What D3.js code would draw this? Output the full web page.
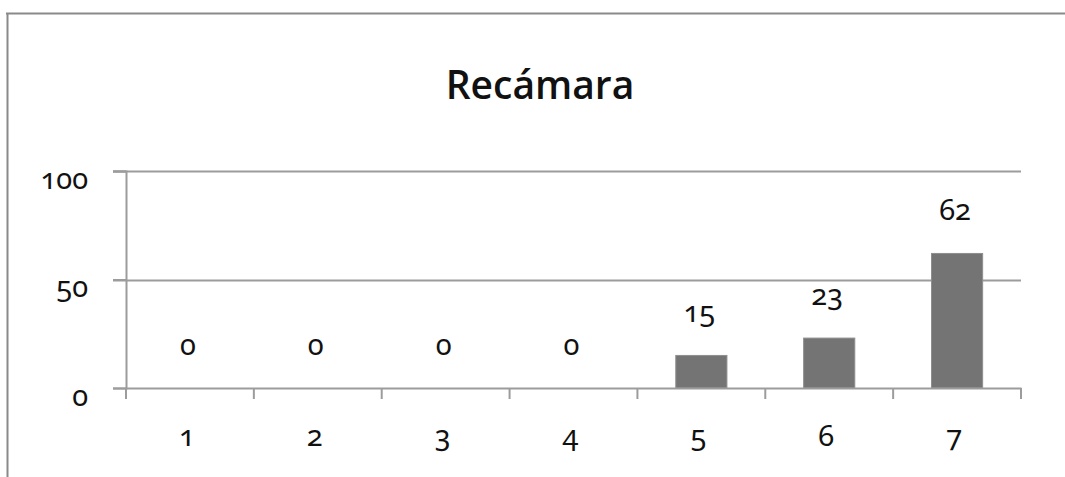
<!DOCTYPE html>
<html>
<head>
<meta charset="utf-8">
<script src="https://cdn.jsdelivr.net/npm/d3@7"></script>
<style>
  html, body { margin: 0; padding: 0; background: #fff; overflow: hidden; }
  svg { display: block; }
  .num { font-family: "Noto Sans", sans-serif; font-feature-settings: "onum" 1; font-variant-numeric: oldstyle-nums; fill: #111; }
</style>
</head>
<body>
<svg id="chart" width="1065" height="477"></svg>
<script>
const title = "Recámara";
const categories = ["1", "2", "3", "4", "5", "6", "7"];
const values = [0, 0, 0, 0, 15, 23, 62];
const yTicks = [0, 50, 100];

const W = 1065, H = 477;
const svg = d3.select("#chart");

// outer border (top and left visible)
svg.append("line").attr("x1", 6).attr("x2", W).attr("y1", 13.5).attr("y2", 13.5)
  .attr("stroke", "#8a8a8a").attr("stroke-width", 2);
svg.append("line").attr("x1", 7.5).attr("x2", 7.5).attr("y1", 13).attr("y2", H)
  .attr("stroke", "#8a8a8a").attr("stroke-width", 2);

const x0 = 126, x1 = 1021, yTop = 171, yBot = 388;

const y = d3.scaleLinear().domain([0, 100]).range([yBot, yTop]);
const xEdge = d3.scaleBand().domain(categories).range([x0, x1]).padding(0);
const xBar = d3.scaleBand().domain(categories).range([x0, x1]).paddingInner(0.6).paddingOuter(0.3);

// title
svg.append("text")
  .attr("x", 540).attr("y", 99)
  .attr("text-anchor", "middle")
  .style("font-family", "'Open Sans', sans-serif")
  .style("font-weight", 600)
  .style("font-size", "39px")
  .style("fill", "#111")
  .text(title);

const grid = "#9c9c9c";

// gridlines
svg.append("g").selectAll("line")
  .data(yTicks.filter(d => d > 0))
  .join("line")
  .attr("x1", x0 - 13).attr("x2", x1)
  .attr("y1", d => Math.round(y(d)) + 0.5).attr("y2", d => Math.round(y(d)) + 0.5)
  .attr("stroke", grid).attr("stroke-width", 2);

// y axis
const yAxis = svg.append("g").attr("transform", `translate(${x0},0)`)
  .call(d3.axisLeft(y).tickValues(yTicks).tickSize(13).tickPadding(25));
yAxis.select(".domain").attr("stroke", grid).attr("stroke-width", 2);
yAxis.selectAll(".tick line").attr("stroke", grid).attr("stroke-width", 2);
yAxis.selectAll(".tick text")
  .attr("class", "num")
  .attr("dy", null).attr("y", 17)
  .style("font-size", "29px");

// bars
svg.append("g").selectAll("rect")
  .data(values)
  .join("rect")
  .attr("x", (d, i) => xBar(categories[i]))
  .attr("width", xBar.bandwidth())
  .attr("y", d => y(d))
  .attr("height", d => yBot - y(d))
  .attr("fill", "#747474")
  .attr("stroke", "#8e8e8e").attr("stroke-width", 1);

// x axis
const xAxis = svg.append("g").attr("transform", `translate(0,${yBot})`)
  .call(d3.axisBottom(xEdge).tickSize(0).tickPadding(0));
xAxis.select(".domain").attr("stroke", grid).attr("stroke-width", 2);
xAxis.selectAll(".tick line").remove();
xAxis.selectAll(".tick text")
  .attr("class", "num")
  .attr("dy", null).attr("y", 58)
  .attr("dx", -3)
  .style("font-size", "29px");
// tick marks at category boundaries
const edges = categories.map(c => xEdge(c)).concat([x1]);
xAxis.append("g").selectAll("line")
  .data(edges)
  .join("line")
  .attr("x1", d => d).attr("x2", d => d)
  .attr("y1", 0).attr("y2", 11)
  .attr("stroke", grid).attr("stroke-width", 2);

// data labels
svg.append("g").selectAll("text")
  .data(values)
  .join("text")
  .attr("class", "num")
  .attr("x", (d, i) => xBar(categories[i]) + xBar.bandwidth() / 2 - 2)
  .attr("y", d => y(d) - 33)
  .attr("text-anchor", "middle")
  .style("font-size", "29px")
  .text(d => d);
</script>
</body>
</html>
